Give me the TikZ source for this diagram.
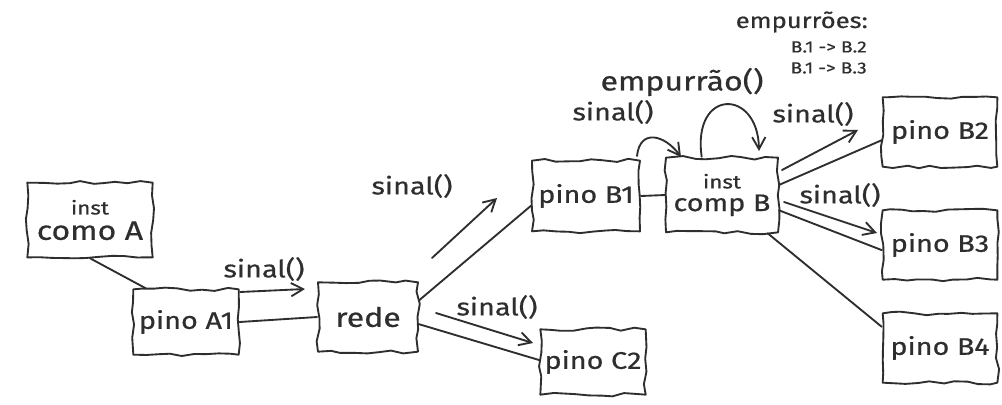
\documentclass[tikz,border=0pt]{standalone}
\usepackage{fontspec}
\newfontfamily\hand{Fira Sans}[FakeStretch=1.2,FakeBold=0.6]
\usetikzlibrary{arrows.meta,decorations.pathmorphing}
\definecolor{ink}{HTML}{2E2E2E}
\begin{document}
\begin{tikzpicture}[x=0.75pt,y=-0.75pt,
  pen/.style={draw=ink, line width=1.4pt, line cap=round, line join=round},
  sketchbox/.style={pen, fill=white, decorate,
    decoration={random steps, segment length=9pt, amplitude=1.4pt},
    inner sep=2pt, align=center, text=ink,
    font=\hand\fontsize{18}{20}\selectfont},
  wire/.style={pen},
  msg/.style={pen, -{Straight Barb[length=9pt,width=10pt,line width=1.4pt]}},
  lbl/.style={inner sep=0pt, text=ink, font=\hand\fontsize{18}{20}\selectfont}
]
\pgfmathsetseed{11}
\useasboundingbox (0,0) rectangle (1002,404);

% components and pins
\node[sketchbox, minimum width=94pt, minimum height=56pt, font=\hand\fontsize{20}{22}\selectfont] (comoA) at (90,220)
  {{\fontsize{14}{15}\selectfont inst}\\[-3pt]como A};
\node[sketchbox, minimum width=79pt, minimum height=49pt] (pinoA1) at (186,322) {pino A1};
\node[sketchbox, minimum width=75pt, minimum height=52pt, font=\hand\fontsize{20}{22}\selectfont] (rede) at (368,317) {rede};
\node[sketchbox, minimum width=81pt, minimum height=53pt] (pinoB1) at (586,196) {pino B1};
\node[sketchbox, minimum width=84pt, minimum height=56pt] (compB) at (722,195)
  {{\fontsize{14}{15}\selectfont inst}\\[-3pt]comp B};
\node[sketchbox, minimum width=79pt, minimum height=49pt] (pinoC2) at (593,362) {pino C2};
\node[sketchbox, minimum width=86pt, minimum height=52pt] (pinoB2) at (940,132) {pino B2};
\node[sketchbox, minimum width=86pt, minimum height=52pt] (pinoB3) at (940,245) {pino B3};
\node[sketchbox, minimum width=86pt, minimum height=52pt] (pinoB4) at (940,348) {pino B4};

% wiring between components and pins
\draw[wire] (comoA.south) -- (pinoA1.140);
\draw[wire] (pinoA1.east) -- (rede.west);
\draw[wire] (rede.18) -- (pinoB1.190);
\draw[wire] (rede.-8) -- (pinoC2.178);
\draw[wire] (pinoB1.east) -- (compB.west);
\draw[wire] (compB.10) -- (pinoB2.188);
\draw[wire] (compB.-15) -- (pinoB3.185);
\draw[wire] (compB.-40) -- (pinoB4.160);

% signal messages
\coordinate (a1) at (240,292); \coordinate (a2) at (305,289);
\draw[msg] (a1) -- (a2);
\node[lbl] at (264,269) {sinal()};

\coordinate (b1) at (432,258); \coordinate (b2) at (497,198);
\draw[msg] (b1) -- (b2);
\node[lbl] at (412,186) {sinal()};

\coordinate (c1) at (436,313); \coordinate (c2) at (533,343);
\draw[msg] (c1) -- (c2);
\node[lbl] at (497,307) {sinal()};

\coordinate (d1) at (637,156); \coordinate (d2) at (681,157);
\draw[msg] (d1) .. controls (640,128) and (665,135) .. (d2);
\node[lbl] at (613,112) {sinal()};

\coordinate (e2) at (759,151);
\draw[msg] (compB.118) .. controls (692,88) and (758,88) .. (e2);
\node[lbl, font=\hand\fontsize{20}{22}\selectfont] at (682,82) {empurrão()};

\coordinate (f1) at (782,170); \coordinate (f2) at (858,130);
\draw[msg] (f1) -- (f2);
\node[lbl] at (813,114) {sinal()};

\coordinate (g1) at (784,202); \coordinate (g2) at (877,233);
\draw[msg] (g1) -- (g2);
\node[lbl] at (840,195) {sinal()};

% list of pushes
\node[lbl, font=\hand\fontsize{16}{17}\selectfont, anchor=east] (empList) at (868,22) {empurrões:};
\node[lbl, font=\hand\fontsize{12}{13}\selectfont, anchor=east] at (867,47) {B.1 -> B.2};
\node[lbl, font=\hand\fontsize{12}{13}\selectfont, anchor=east] at (867,68) {B.1 -> B.3};
\end{tikzpicture}
\end{document}
